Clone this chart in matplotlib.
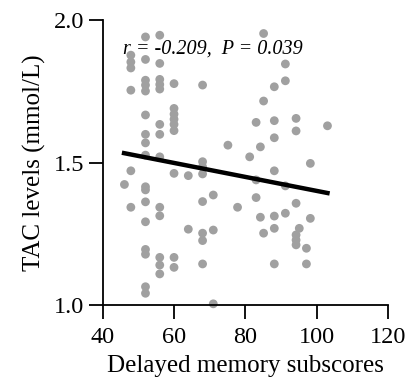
import matplotlib
matplotlib.use('Agg')
import matplotlib.pyplot as plt
import numpy as np

plt.rcParams['font.family'] = ['Liberation Serif', 'DejaVu Serif']

# delayed memory subscores (x) and TAC levels (y)
memory = [46.1, 47.9, 47.9, 47.9, 47.9, 47.9, 47.9,
          52, 52, 52, 52, 52, 52, 52, 52, 52, 52, 52, 52, 52, 52, 52, 52, 52,
          56, 56, 56, 56, 56, 56, 56, 56, 56, 56, 56, 56, 56,
          60, 60, 60, 60, 60, 60, 60, 60, 60,
          64, 64,
          68, 68, 68, 68, 68, 68, 68, 68,
          71, 71, 71,
          75.1, 77.8, 81.2,
          83, 83, 83,
          84.2, 84.2,
          85.1, 85.1, 85.1,
          88.1, 88.1, 88.1, 88.1, 88.1, 88.1, 88.1,
          91.2, 91.2, 91.2, 91.2,
          94.2, 94.2, 94.2, 94.2, 94.2, 94.2,
          95.1, 97.1, 97.1, 98.2, 98.2, 103]
tac = [1.423, 1.877, 1.853, 1.832, 1.754, 1.471, 1.343,
       1.941, 1.862, 1.789, 1.772, 1.751, 1.667, 1.599, 1.569, 1.526, 1.415, 1.404,
       1.362, 1.292, 1.195, 1.178, 1.064, 1.041,
       1.947, 1.848, 1.792, 1.774, 1.758, 1.634, 1.599, 1.520, 1.343, 1.313, 1.167,
       1.140, 1.109,
       1.777, 1.690, 1.670, 1.652, 1.634, 1.612, 1.462, 1.167, 1.132,
       1.454, 1.266,
       1.772, 1.503, 1.485, 1.460, 1.363, 1.252, 1.226, 1.144,
       1.386, 1.263, 1.004,
       1.561, 1.343, 1.520,
       1.641, 1.439, 1.377,
       1.555, 1.308,
       1.953, 1.716, 1.252,
       1.766, 1.647, 1.587, 1.471, 1.312, 1.269, 1.144,
       1.846, 1.787, 1.418, 1.322,
       1.655, 1.611, 1.357, 1.246, 1.228, 1.211,
       1.269, 1.199, 1.144, 1.497, 1.304, 1.629]

# regression line end points
fit_x = [46, 103]
fit_y = [1.533, 1.393]

x_ticks = [40, 60, 80, 100, 120]
y_ticks = [1.0, 1.5, 2.0]

fig = plt.figure(figsize=(4.09, 3.87), dpi=100)
ax = fig.add_axes([0.251, 0.212, 0.698, 0.736])

ax.scatter(memory, tac, s=40, color='#a0a0a0', edgecolors='none', zorder=2, clip_on=False)
ax.plot(fit_x, fit_y, color='black', linewidth=3.2, zorder=3)

ax.set_xlim(40, 120)
ax.set_ylim(1.0, 2.0)
ax.set_xticks(x_ticks)
ax.set_yticks(y_ticks)
ax.set_yticklabels(['%.1f' % v for v in y_ticks])

for s in ['top', 'right']:
    ax.spines[s].set_visible(False)
for s in ['left', 'bottom']:
    ax.spines[s].set_linewidth(1.3)
ax.tick_params(direction='out', length=10, width=1.3, labelsize=17.5)
ax.tick_params(axis='x', pad=6)
ax.tick_params(axis='y', pad=3)

ax.set_xlabel('Delayed memory subscores', fontsize=18, labelpad=5)
ax.set_ylabel('TAC levels (mmol/L)', fontsize=18, labelpad=6)

ax.text(0.072, 0.9, 'r = -0.209,  P = 0.039', transform=ax.transAxes,
        fontsize=14.5, style='italic', ha='left', va='center')

fig.savefig('out.png', dpi=100)
